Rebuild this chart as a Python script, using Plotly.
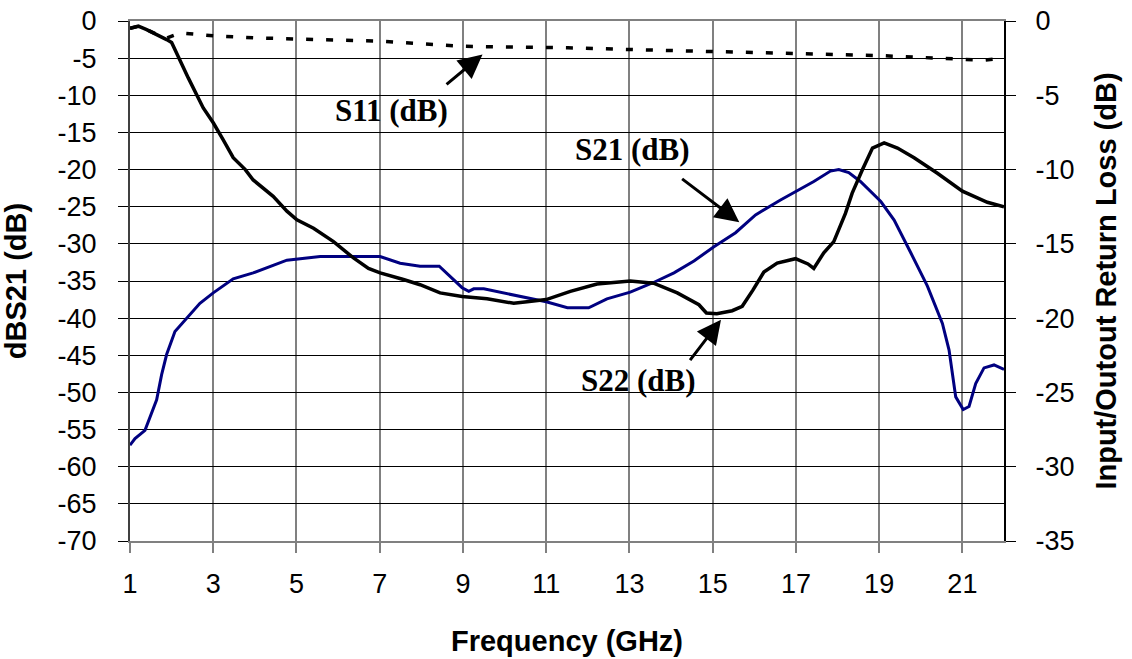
import plotly.graph_objects as go

# ---- data ----
s21_freq = [1.0, 1.12, 1.36, 1.52, 1.64, 1.76, 1.88, 2.08, 2.36, 2.68, 3.0, 3.48, 3.96, 4.37, 4.77,
            5.57, 6.37, 7.01, 7.49, 7.97, 8.43, 8.77, 8.98, 9.14, 9.26, 9.5, 10.22, 11.0, 11.51,
            12.02, 12.46, 13.02, 13.58, 14.07, 14.55, 15.03, 15.55, 16.03, 16.63, 17.43, 17.83,
            18.03, 18.27, 18.55, 19.04, 19.36, 19.76, 20.16, 20.52, 20.68, 20.84, 21.02, 21.16,
            21.32, 21.52, 21.76, 22.0]
s21_db = [-57.1, -56.2, -55.1, -52.6, -51.0, -47.6, -44.9, -41.8, -40.0, -38.0, -36.6, -34.7, -33.9,
          -33.0, -32.2, -31.7, -31.7, -31.7, -32.6, -33.0, -33.0, -34.8, -35.9, -36.4, -36.05,
          -36.05, -36.9, -37.8, -38.6, -38.6, -37.4, -36.5, -35.2, -33.9, -32.3, -30.4, -28.5,
          -26.1, -24.1, -21.6, -20.2, -20.0, -20.4, -21.6, -24.3, -26.8, -31.2, -35.7, -40.7,
          -44.3, -50.6, -52.3, -51.9, -48.8, -46.7, -46.3, -46.9]

s22_freq = [1.0, 1.2, 1.4, 1.64, 1.88, 2.0, 2.2, 2.4, 2.76, 3.0, 3.24, 3.48, 3.77, 3.96, 4.44, 4.77,
            5.01, 5.41, 5.89, 6.37, 6.73, 7.01, 7.57, 7.97, 8.45, 8.98, 9.58, 10.22, 10.54, 11.0,
            11.58, 12.22, 13.02, 13.58, 14.15, 14.67, 14.85, 15.1, 15.47, 15.71, 15.97, 16.23,
            16.55, 16.99, 17.29, 17.43, 17.67, 17.91, 18.19, 18.35, 18.6, 18.84, 19.12, 19.44,
            19.84, 20.4, 21.0, 21.6, 22.0]
s22_db = [-0.5, -0.35, -0.58, -0.9, -1.25, -1.45, -2.7, -3.83, -5.85, -6.85, -8.0, -9.2, -10.0,
          -10.7, -11.8, -12.8, -13.38, -13.95, -14.85, -15.95, -16.65, -16.95, -17.4, -17.75,
          -18.3, -18.55, -18.7, -19.0, -18.9, -18.75, -18.2, -17.7, -17.5, -17.65, -18.3, -19.1,
          -19.65, -19.7, -19.5, -19.2, -18.1, -16.9, -16.3, -16.0, -16.35, -16.65, -15.6, -14.85,
          -12.95, -11.6, -10.0, -8.55, -8.2, -8.55, -9.2, -10.25, -11.45, -12.2, -12.5]

s11_freq = [1.0, 1.2, 1.4, 1.64, 1.88, 2.2, 2.52, 3.0, 4.05, 5.57, 7.01, 8.05, 9.0, 10.0, 11.52,
            13.0, 15.02, 17.04, 19.06, 20.0, 20.99, 21.5, 22.0]
s11_db = [-0.5, -0.35, -0.58, -0.9, -1.15, -0.8, -0.88, -1.0, -1.14, -1.25, -1.36, -1.54, -1.7,
          -1.75, -1.8, -1.92, -2.04, -2.19, -2.33, -2.45, -2.6, -2.64, -2.48]

x_ticks = [1, 3, 5, 7, 9, 11, 13, 15, 17, 19, 21]
left_ticks = list(range(-70, 1, 5))
right_ticks = list(range(-35, 1, 5))

FONT = "Liberation Sans, Arial, sans-serif"
SERIF = "Liberation Serif, Times New Roman, serif"

fig = go.Figure()
fig.add_trace(go.Scatter(x=s21_freq, y=s21_db, mode="lines", name="S21 (dB)",
                         line=dict(color="#000080", width=3), yaxis="y"))
fig.add_trace(go.Scatter(x=s22_freq, y=s22_db, mode="lines", name="S22 (dB)",
                         line=dict(color="#000000", width=3.5), yaxis="y2"))
fig.add_trace(go.Scatter(x=s11_freq, y=s11_db, mode="lines", name="S11 (dB)",
                         line=dict(color="#000000", width=3.5, dash="7px,13px"), yaxis="y2"))

# labels with arrows
labels = [
    dict(text="S11 (dB)", x=7.28, y=-12.06, tail=(8.57, -8.69), head=(9.47, -4.51)),
    dict(text="S21 (dB)", x=13.07, y=-17.3, tail=(14.23, -21.1), head=(15.64, -27.1)),
    dict(text="S22 (dB)", x=13.22, y=-48.4, tail=(14.43, -45.85), head=(15.2, -40.2)),
]
for lb in labels:
    fig.add_annotation(x=lb["x"], y=lb["y"], xref="x", yref="y", text="<b>%s</b>" % lb["text"],
                       showarrow=False, font=dict(family=SERIF, size=31, color="black"))
    fig.add_annotation(x=lb["head"][0], y=lb["head"][1], ax=lb["tail"][0], ay=lb["tail"][1],
                       xref="x", yref="y", axref="x", ayref="y", text="", showarrow=True,
                       arrowhead=2, arrowsize=1.6, arrowwidth=3, arrowcolor="black")

fig.update_layout(
    width=1132, height=659,
    margin=dict(l=130, r=128, t=21, b=118),
    paper_bgcolor="white", plot_bgcolor="white",
    showlegend=False,
    font=dict(family=FONT, color="black"),
    xaxis=dict(range=[1, 22], tickmode="array", tickvals=x_ticks,
               ticktext=[str(v) for v in x_ticks],
               showgrid=True, gridcolor="#808080", gridwidth=1.5,
               showline=True, linecolor="#808080", linewidth=2, mirror=True,
               ticks="outside", ticklen=10, tickcolor="#808080", tickwidth=1.5,
               tickfont=dict(size=27, family=FONT), ticklabelstandoff=8,
               ticklabeloverflow="allow",
               zeroline=False, automargin=False,
               title=dict(text="<b>Frequency (GHz)</b>", font=dict(size=29, family=FONT),
                          standoff=32)),
    yaxis=dict(range=[-70, 0], tickmode="array", tickvals=left_ticks,
               ticktext=[str(v) for v in left_ticks],
               showgrid=True, gridcolor="#000000", gridwidth=1,
               showline=True, linecolor="#404040", linewidth=2,
               ticks="outside", ticklen=10, tickcolor="#000000",
               tickfont=dict(size=27, family=FONT), ticklabelstandoff=16,
               ticklabeloverflow="allow",
               zeroline=False, automargin=False,
               title=dict(text="<b>dBS21 (dB)</b>", font=dict(size=29, family=FONT),
                          standoff=23)),
    yaxis2=dict(range=[-35, 0], tickmode="array", tickvals=right_ticks,
                ticktext=[str(v) for v in right_ticks],
                overlaying="y", side="right", showgrid=False,
                showline=True, linecolor="#000000", linewidth=2,
                ticks="outside", ticklen=10, tickcolor="#000000",
                tickfont=dict(size=27, family=FONT), ticklabelstandoff=14,
                ticklabeloverflow="allow",
                zeroline=False, automargin=False,
                title=dict(text="<b>Input/Outout Return Loss (dB)</b>",
                           font=dict(size=29, family=FONT), standoff=22)),
)

fig.write_html("out.html", config={"displayModeBar": False},
               post_script="document.body.style.margin='0';")
